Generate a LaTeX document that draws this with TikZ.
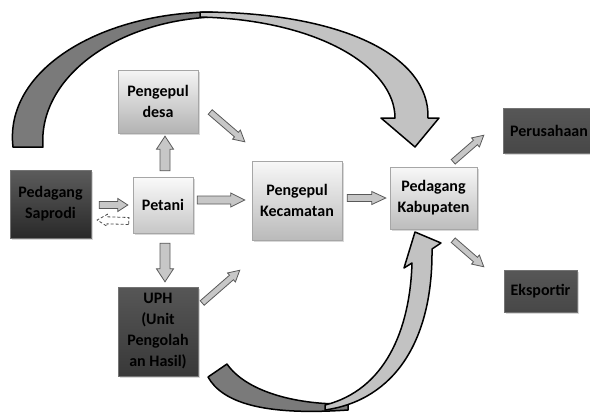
\documentclass[tikz,border=0pt]{standalone}
\usepackage{fontspec}
\setmainfont{Carlito}
\usetikzlibrary{calc,shadows}
\newcommand\boxfont{\fontsize{16}{21}\selectfont\bfseries}
\newcommand\blockarr[6][blk]{%
  \path[#1] let \p1=#2, \p2=#3,
    \n1={atan2(\y2-\y1,\x2-\x1)}, \n2={veclen(\x2-\x1,\y2-\y1)} in
    [shift={(\x1,\y1)}, rotate=\n1]
    (0,-#4) -- ({\n2-#6},-#4) -- ({\n2-#6},-#5) -- (\n2,0) --
    ({\n2-#6},#5) -- ({\n2-#6},#4) -- (0,#4) -- cycle;}
\tikzset{
  boxshadow/.style={drop shadow={opacity=0.3, shadow xshift=1.5pt, shadow yshift=-1.8pt}},
  lightbox/.style={draw=black!35, top color=black!4, bottom color=black!30,
    align=center, inner sep=2pt, font=\boxfont, text=black, boxshadow},
  darkbox/.style={draw=black!55, top color=black!62, bottom color=black!78,
    align=center, inner sep=2pt, font=\boxfont, text=black, boxshadow},
  blk/.style={fill=black!22, draw=black!65, line width=0.8pt, line join=miter},
  dblk/.style={fill=white, draw=black!70, dash pattern=on 3pt off 2pt, line width=0.8pt},
  ribdark/.style={fill=black!52, draw=black, line width=1.5pt, line join=round},
  riblight/.style={fill=black!24, draw=black, line width=1.5pt, line join=round},
}
\begin{document}
\begin{tikzpicture}[x=1pt,y=-1pt]
\useasboundingbox[fill=white] (0,0) rectangle (590,415);

% ---- large curved arrow, top ----
\path[ribdark] (13,147) .. controls (4,70) and (100,13) .. (212,12)
  -- (212,17) .. controls (112,22) and (38,80) .. (43,147) -- cycle;
\path[riblight] (200,12) .. controls (340,12) and (430,55) .. (428,118)
  -- (439,118) -- (415,147) -- (381,118) -- (395,118)
  .. controls (395,68) and (320,20) .. (200,17) -- cycle;

% ---- large curved arrow, bottom ----
\path[ribdark] (208,377) .. controls (222,402) and (262,416) .. (348,410)
  -- (348,404) .. controls (292,405) and (245,390) .. (227,364) -- cycle;
\path[riblight] (325,410) .. controls (395,400) and (433,340) .. (432,249)
  -- (441,243) -- (415,232) -- (404,268) -- (412,263)
  .. controls (410,330) and (385,390) .. (325,405) -- cycle;

% ---- boxes ----
\node[lightbox, minimum width=80, minimum height=63] (desa) at (158,101.5) {Pengepul\\desa};
\node[lightbox, minimum width=60, minimum height=56, top color=black!2, bottom color=black!22] (petani) at (163,205) {Petani};
\node[darkbox, minimum width=81, minimum height=68, top color=black!64, bottom color=black!84] (saprodi) at (50.5,204) {Pedagang\\Saprodi};
\node[lightbox, minimum width=90, minimum height=79, top color=black!3, bottom color=black!27] (kec) at (297,200.5) {Pengepul\\Kecamatan};
\node[lightbox, minimum width=87, minimum height=62, top color=black!3, bottom color=black!26] (kab) at (433.5,198) {Pedagang\\Kabupaten};
\node[darkbox, minimum width=92, minimum height=45, top color=black!66, bottom color=black!72] (perus) at (549,130.5) {Perusahaan};
\node[darkbox, minimum width=73, minimum height=42, top color=black!66, bottom color=black!72] (eks) at (540.5,291) {Eksportir};
\node[darkbox, minimum width=80, minimum height=89, top color=black!66, bottom color=black!78] (uph) at (158,331.5) {UPH\\(Unit\\Pengolah\\an Hasil)};

% ---- block arrows ----
\blockarr{($(saprodi.east)+(8,1)$)}{($(petani.west)+(-5,0)$)}{3.5}{6.5}{10}
\blockarr[dblk]{($(petani.west)+(-4,16)$)}{($(saprodi.east)+(6,16)$)}{3.5}{6}{10}
\blockarr{($(petani.east)+(4,-5)$)}{($(kec.west)+(-7,-0.5)$)}{4}{7}{14}
\blockarr{($(petani.north)+(2,-6)$)}{($(desa.south)+(7,3)$)}{5}{8.5}{13}
\blockarr{($(petani.south)+(2,10)$)}{($(uph.north)+(7,-5)$)}{5}{8.5}{13}
\blockarr{($(desa.east)+(12,10.5)$)}{($(kec.north west)+(-7,-19)$)}{3}{6}{11}
\blockarr{($(uph.east)+(4,-28.5)$)}{($(kec.south west)+(-12,30)$)}{3}{6}{11}
\blockarr{($(kec.east)+(5,-2.5)$)}{($(kab.west)+(-4,0)$)}{3.5}{6.5}{14}
\blockarr{($(kab.north east)+(-24,-5)$)}{($(perus.south west)+(-19,-18)$)}{3}{6}{11}
\blockarr{($(kab.south east)+(-24,11)$)}{($(eks.north west)+(-20,-3)$)}{3}{6}{11}
\end{tikzpicture}
\end{document}
